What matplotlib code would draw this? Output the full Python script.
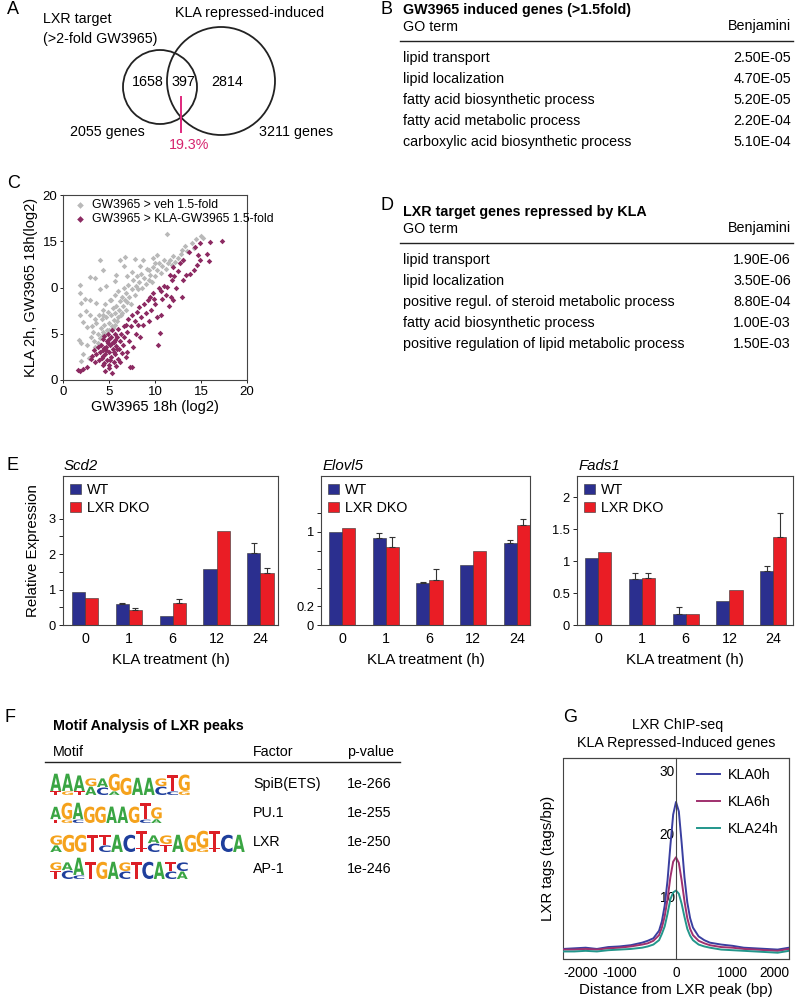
import matplotlib
matplotlib.use('Agg')
import matplotlib.pyplot as plt
import matplotlib.transforms as mtransforms
from matplotlib.patches import Circle, Rectangle, PathPatch
from matplotlib.textpath import TextPath
from matplotlib.font_manager import FontProperties
from matplotlib.ticker import FixedLocator, FixedFormatter
import numpy as np

plt.rcParams['font.family'] = ['Liberation Sans', 'DejaVu Sans']
plt.rcParams['axes.linewidth'] = 0.8
plt.rcParams['axes.edgecolor'] = '#444444'
plt.rcParams['axes.unicode_minus'] = False

# ---- panel A: venn counts
venn_counts = [1658, 397, 2814]
venn_totals = [2055, 3211]
venn_overlap_pct = 19.3

# ---- panel B / D: GO tables
go_b_terms = ['lipid transport', 'lipid localization', 'fatty acid biosynthetic process',
              'fatty acid metabolic process', 'carboxylic acid biosynthetic process']
go_b_pvals = ['2.50E-05', '4.70E-05', '5.20E-05', '2.20E-04', '5.10E-04']
go_d_terms = ['lipid transport', 'lipid localization', 'positive regul. of steroid metabolic process',
              'fatty acid biosynthetic process', 'positive regulation of lipid metabolic process']
go_d_pvals = ['1.90E-06', '3.50E-06', '8.80E-04', '1.00E-03', '1.50E-03']

# ---- panel C: scatter (log2)
gray_x = [1.9, 2.9, 3.5, 1.9, 2.0, 2.4, 2.9, 3.6, 4.0, 4.4, 5.8, 6.2, 6.7, 6.6, 7.8, 8.7, 9.8, 10.2, 11.3, 10.0,
          9.3, 8.4, 7.5, 7.0, 5.6, 4.7, 4.0, 5.2, 2.5, 2.9, 3.5, 1.9, 2.2, 2.6, 3.3, 1.7, 2.0, 2.6, 2.2, 2.8,
          2.0, 13.3, 15.2, 14.2, 12.9,
          3.0, 3.2, 3.4, 3.6, 3.8, 3.9, 4.0, 4.1, 4.2, 4.3, 4.4, 4.5, 4.6, 4.7, 4.8, 4.9, 5.0, 5.1, 5.2, 5.3,
          5.4, 5.5, 5.6, 5.7, 5.8, 5.9, 6.0, 6.1, 6.2, 6.3, 6.4, 6.5, 6.6, 6.7, 6.8, 6.9, 7.0, 7.1, 7.2, 7.4,
          7.5, 7.6, 7.8, 7.9, 8.0, 8.2, 8.3, 8.5, 8.6, 8.8, 9.0, 9.1, 9.3, 9.5, 9.7, 9.8, 10.0, 10.2, 10.4, 10.6,
          10.8, 11.0, 11.2, 11.4, 11.6, 11.8, 12.0, 12.2, 12.5, 12.8, 13.0, 13.5, 14.0, 14.5, 15.0,
          4.2, 4.6, 5.0, 5.4, 3.5, 3.8, 4.4, 5.6, 6.0, 6.4]
gray_y = [10.3, 11.1, 11.0, 9.4, 8.3, 8.8, 8.6, 8.3, 13.0, 11.9, 11.3, 13.0, 13.3, 12.3, 13.1, 13.0, 13.2, 13.5, 15.8, 12.7,
          11.9, 12.3, 11.7, 11.2, 10.7, 10.2, 9.8, 8.7, 7.5, 7.0, 6.6, 7.0, 6.3, 5.7, 5.2, 4.3, 4.0, 3.8, 2.8, 2.4,
          2.1, 14.5, 15.4, 14.3, 14.1,
          4.6, 5.8, 4.2, 6.2, 5.0, 7.0, 4.5, 5.6, 6.6, 7.6, 5.2, 6.0, 8.2, 6.8, 5.4, 7.3, 6.2, 8.6, 7.0, 5.8,
          7.8, 6.5, 9.2, 7.2, 8.0, 6.4, 9.6, 7.6, 8.5, 7.0, 9.0, 8.0, 10.0, 8.6, 7.6, 9.4, 8.4, 10.3, 9.0, 8.2,
          9.8, 10.8, 9.2, 10.2, 11.2, 9.8, 10.6, 11.5, 10.0, 11.0, 10.4, 12.0, 10.8, 11.4, 10.6, 12.2, 11.2, 11.9, 12.6, 11.6,
          12.3, 13.0, 12.0, 12.7, 13.0, 12.4, 13.4, 12.8, 13.2, 13.6, 13.0, 14.0, 14.8, 15.2, 15.6,
          4.8, 5.0, 5.4, 5.6, 3.6, 4.0, 7.0, 6.0, 6.8, 7.2]
purple_x = [4.0, 4.1, 4.2, 4.3, 4.4, 4.5, 4.5, 4.6, 4.7, 4.8, 4.8, 4.9, 5.0, 5.0, 5.1, 5.2, 5.2, 5.3, 5.4, 5.5,
            5.5, 5.6, 5.7, 5.8, 5.9, 6.0, 6.0, 6.1, 6.2, 6.3, 6.4, 6.5, 6.6, 3.6, 3.8, 3.9, 3.4, 3.2, 3.0, 3.5,
            4.4, 4.6, 5.0, 5.3, 5.8, 7.3, 7.5, 1.6, 1.9, 2.2, 2.6, 6.2, 6.8, 7.0,
            4.3, 4.7, 5.1, 5.5, 5.9, 4.9, 5.3, 5.7, 4.5, 5.0,
            6.6, 6.8, 7.0, 7.1, 7.2, 7.4, 7.5, 7.6, 7.8, 7.9, 8.0, 8.2, 8.3, 8.4, 8.5, 8.7, 8.8, 9.0, 9.2, 9.3,
            9.5, 9.6, 9.8, 10.0, 10.2, 10.3, 10.5, 10.6, 10.7, 10.8, 11.0, 11.2, 11.3, 11.5, 11.7, 11.8, 12.0, 12.1, 12.3, 12.5,
            12.7, 12.9, 13.0, 13.0, 13.4, 13.7, 13.8, 14.2, 14.3, 14.6, 14.7, 14.9, 14.9, 15.6, 15.9, 16.0, 17.3,
            12.0, 11.6, 10.4, 9.9]
purple_y = [3.0, 3.8, 2.4, 4.4, 3.2, 1.8, 4.8, 2.8, 3.6, 2.2, 4.2, 5.0, 3.0, 1.6, 3.8, 2.5, 4.6, 5.4, 3.3, 2.0,
            4.1, 5.0, 2.8, 3.7, 4.6, 2.3, 5.5, 3.4, 4.2, 5.0, 2.9, 3.8, 5.8, 2.8, 3.6, 2.2, 3.2, 2.6, 2.3, 2.0,
            1.6, 1.0, 1.3, 0.8, 1.5, 1.4, 1.4, 1.1, 1.0, 1.2, 1.4, 1.9, 2.5, 3.0,
            2.6, 3.2, 2.2, 3.0, 3.4, 4.0, 4.0, 4.3, 3.5, 4.4,
            4.6, 6.0, 5.2, 6.6, 4.2, 5.8, 7.0, 3.6, 6.4, 5.0, 7.4, 6.0, 7.9, 4.6, 6.8, 5.9, 8.2, 7.2, 8.6, 6.4,
            9.0, 7.6, 9.4, 8.2, 6.8, 3.8, 5.1, 9.6, 7.0, 8.8, 10.2, 9.2, 10.1, 8.0, 9.0, 10.8, 8.6, 11.2, 10.0, 11.8,
            12.6, 9.0, 13.0, 10.8, 11.3, 13.8, 11.5, 11.9, 14.4, 12.4, 13.5, 14.8, 13.0, 13.6, 12.9, 14.9, 15.0,
            12.2, 11.4, 10.0, 8.8]

# ---- panel E: qPCR
hours = ['0', '1', '6', '12', '24']
scd2_wt = [0.93, 0.58, 0.26, 1.59, 2.02]
scd2_dko = [0.77, 0.43, 0.62, 2.66, 1.47]
scd2_wt_err = [0, 0.03, 0, 0, 0.30]
scd2_dko_err = [0, 0.05, 0.11, 0, 0.13]
elovl5_wt = [1.0, 0.93, 0.455, 0.645, 0.885]
elovl5_dko = [1.04, 0.84, 0.48, 0.80, 1.07]
elovl5_wt_err = [0, 0.06, 0.005, 0, 0.025]
elovl5_dko_err = [0, 0.11, 0.12, 0, 0.07]
fads1_wt = [1.04, 0.72, 0.17, 0.38, 0.85]
fads1_dko = [1.14, 0.73, 0.17, 0.55, 1.38]
fads1_wt_err = [0, 0.10, 0.11, 0, 0.08]
fads1_dko_err = [0, 0.08, 0, 0, 0.37]

# ---- panel F: motifs
motif_main = ['AAAGAGGAAGTG', 'AGAGGAAGTG', 'GGGTTACTAGAGGTCA', 'GAATGAGTCATC']
motif_main_h = [[1, 1, .9, .45, .5, 1, 1, 1, 1, .45, .9, .95],
                [.75, 1, 1, 1, 1, 1, 1, 1, 1, .7],
                [.55, 1, 1, 1, .55, 1, 1, 1, .45, .5, 1, 1, 1, 1, 1, 1],
                [.45, .45, 1, 1, 1, 1, .5, 1, 1, 1, .5, .5]]
motif_sub = ['TGTACA   CCG', 'TGC     CA', 'A   C  TCT  GT  ', 'TCC   C   CA']
motif_factor = ['SpiB(ETS)', 'PU.1', 'LXR', 'AP-1']
motif_pval = ['1e-266', '1e-255', '1e-250', '1e-246']

# ---- panel G: ChIP-seq profile
dist = [-2000, -1800, -1600, -1400, -1200, -1000, -800, -600, -500, -400, -300, -250, -200, -150, -100, -50, 0,
        50, 100, 150, 200, 250, 300, 400, 500, 600, 800, 1000, 1200, 1400, 1600, 1800, 2000]
kla0 = [1.6, 1.7, 1.8, 1.6, 1.9, 2.0, 2.2, 2.6, 2.9, 3.3, 4.5, 6.0, 8.5, 12.5, 18.0, 23.0, 25.0,
        23.5, 18.5, 13.0, 9.0, 6.5, 5.0, 3.6, 3.0, 2.6, 2.3, 2.1, 1.8, 1.7, 1.6, 1.5, 1.8]
kla6 = [1.5, 1.5, 1.6, 1.5, 1.7, 1.8, 2.0, 2.3, 2.5, 2.9, 3.8, 5.0, 6.8, 9.5, 13.0, 15.5, 16.2,
        15.3, 12.5, 9.2, 6.5, 4.8, 3.8, 2.9, 2.5, 2.2, 1.9, 1.8, 1.6, 1.5, 1.4, 1.3, 1.6]
kla24 = [1.2, 1.2, 1.3, 1.2, 1.4, 1.5, 1.6, 1.8, 2.0, 2.3, 3.0, 4.0, 5.2, 7.2, 9.5, 10.6, 10.9,
         10.4, 8.8, 6.7, 4.8, 3.7, 3.0, 2.3, 2.0, 1.8, 1.5, 1.4, 1.3, 1.2, 1.1, 1.0, 1.3]

blue = '#2b2f8f'
red = '#ea1d25'
lcol = {'A': '#3aa543', 'C': '#1f3f9c', 'G': '#f5a21c', 'T': '#dc1f26'}

fig = plt.figure(figsize=(8, 10), dpi=100)


def px_axes(l, t, r, b):
    return fig.add_axes([l / 800, 1 - b / 1000, (r - l) / 800, (b - t) / 1000])


bg = px_axes(0, 0, 800, 1000)
bg.set_xlim(0, 800)
bg.set_ylim(1000, 0)
bg.axis('off')

# panel letters
for lab, x, y in [('A', 7, 10), ('B', 380, 10), ('C', 7, 183), ('D', 381, 206),
                  ('E', 6, 466), ('F', 5, 717), ('G', 563, 717)]:
    bg.text(x, y, lab, fontsize=13, va='center', ha='left')

# ---- A
bg.add_patch(Circle((160, 87), 37, fill=False, lw=1.3, ec='#222222'))
bg.add_patch(Circle((221, 81), 54, fill=False, lw=1.3, ec='#222222'))
bg.plot([181, 181], [97, 132], color='#e0287d', lw=1.4)
bg.text(43, 19, 'LXR target', fontsize=10.3, va='center')
bg.text(43, 39, '(>2-fold GW3965)', fontsize=10.3, va='center')
bg.text(175, 13, 'KLA repressed-induced', fontsize=10.3, va='center')
bg.text(148, 82, str(venn_counts[0]), fontsize=10.3, va='center', ha='center')
bg.text(183, 82, str(venn_counts[1]), fontsize=10.3, va='center', ha='center')
bg.text(227, 82, str(venn_counts[2]), fontsize=10.3, va='center', ha='center')
bg.text(107, 132, '%d genes' % venn_totals[0], fontsize=10.3, va='center', ha='center')
bg.text(296, 132, '%d genes' % venn_totals[1], fontsize=10.3, va='center', ha='center')
bg.text(189, 145, '%.1f%%' % venn_overlap_pct, fontsize=10.3, va='center', ha='center', color='#d6246e')


# ---- B & D tables
def go_table(title, y0, terms, pvals):
    bg.text(403, y0, title, fontsize=10.3, fontweight='bold', va='center')
    bg.text(403, y0 + 17, 'GO term', fontsize=10.3, va='center')
    bg.text(791, y0 + 16, 'Benjamini', fontsize=10.3, va='center', ha='right')
    bg.plot([400, 793], [y0 + 31, y0 + 31], color='#222222', lw=1.0)
    for i, (t, p) in enumerate(zip(terms, pvals)):
        yy = y0 + 48 + i * 21
        bg.text(403, yy, t, fontsize=10.3, va='center')
        bg.text(791, yy, p, fontsize=10.3, va='center', ha='right')


go_table('GW3965 induced genes (>1.5fold)', 10, go_b_terms, go_b_pvals)
go_table('LXR target genes repressed by KLA', 212, go_d_terms, go_d_pvals)

# ---- C scatter
axc = px_axes(63, 195, 247, 380)
axc.scatter(gray_x, gray_y, s=8, marker='D', color='#b9b9b9', linewidths=0, label='GW3965 > veh 1.5-fold')
axc.scatter(purple_x, purple_y, s=8, marker='D', color='#8c2a62', linewidths=0,
            label='GW3965 > KLA-GW3965 1.5-fold')
axc.set_xlim(0, 20)
axc.set_ylim(0, 20)
axc.set_xticks([0, 5, 10, 15, 20])
axc.set_yticks([0, 5, 10, 15, 20])
axc.set_yticklabels(['0', '5', '0', '15', '20'])
axc.tick_params(labelsize=9.5, length=2, width=0.6, pad=2)
axc.set_xlabel('GW3965 18h (log2)', fontsize=10.5, labelpad=2)
axc.set_ylabel('KLA 2h, GW3965 18h(log2)', fontsize=10.5, labelpad=3)
axc.legend(loc='upper left', frameon=False, fontsize=8.8, handletextpad=0.0, labelspacing=0.15,
           borderaxespad=0.15, markerscale=1.2, borderpad=0.2)


# ---- E bars
def bar_panel(l, r, gene, wt, dko, wt_err, dko_err, ylim, xlim):
    ax = px_axes(l, 476, r, 625)
    x = np.arange(len(hours))
    ax.bar(x - 0.15, wt, 0.3, color=blue, edgecolor='#333333', linewidth=0.4, label='WT')
    ax.bar(x + 0.15, dko, 0.3, color=red, edgecolor='#333333', linewidth=0.4, label='LXR DKO')
    for xs, vals, errs in [(x - 0.15, wt, wt_err), (x + 0.15, dko, dko_err)]:
        idx = [i for i, e in enumerate(errs) if e > 0]
        ax.errorbar(xs[idx], np.array(vals)[idx], yerr=[np.zeros(len(idx)), np.array(errs)[idx]],
                    fmt='none', ecolor='#333333', elinewidth=0.8, capsize=2.2, capthick=0.8)
    ax.set_xlim(*xlim)
    ax.set_ylim(*ylim)
    ax.set_xticks(x)
    ax.set_xticklabels(hours)
    ax.tick_params(axis='x', length=0, labelsize=10.3, pad=5)
    ax.tick_params(axis='y', labelsize=9.3, length=3, width=0.6, pad=2)
    ax.tick_params(axis='y', which='minor', length=3, width=0.6)
    ax.set_xlabel('KLA treatment (h)', fontsize=10.8, labelpad=5)
    ax.text(0.005, 1.02, gene, transform=ax.transAxes, fontsize=10.8, style='italic', va='bottom')
    ax.legend(loc='upper left', frameon=False, fontsize=10.3, handlelength=0.75, handleheight=0.75,
              handletextpad=0.4, labelspacing=0.25, borderaxespad=0.3, borderpad=0.2)
    return ax


ax1 = bar_panel(63, 278, 'Scd2', scd2_wt, scd2_dko, scd2_wt_err, scd2_dko_err, (0, 4.2), (-0.5, 4.4))
ax1.yaxis.set_major_locator(FixedLocator([0, 1, 2, 3]))
ax1.yaxis.set_minor_locator(FixedLocator([0.5, 1.5, 2.5]))
ax1.set_ylabel('Relative Expression', fontsize=10.8, labelpad=6)

ax2 = bar_panel(321, 530, 'Elovl5', elovl5_wt, elovl5_dko, elovl5_wt_err, elovl5_dko_err, (0, 1.6), (-0.48, 4.3))
ax2.yaxis.set_major_locator(FixedLocator([0, 0.2, 0.4, 0.6, 0.8, 1.0, 1.2]))
ax2.yaxis.set_major_formatter(FixedFormatter(['0', '0.2', '', '', '', '1', '']))

ax3 = bar_panel(577, 793, 'Fads1', fads1_wt, fads1_dko, fads1_wt_err, fads1_dko_err, (0, 2.33), (-0.48, 4.45))
ax3.yaxis.set_major_locator(FixedLocator([0, 0.5, 1, 1.5, 2]))
ax3.yaxis.set_major_formatter(FixedFormatter(['0', '0.5', '1', '1.5', '2']))

# ---- F motif table
bg.text(53, 726, 'Motif Analysis of LXR peaks', fontsize=10.3, fontweight='bold', va='center')
bg.text(53, 752, 'Motif', fontsize=10.3, va='center')
bg.text(253, 752, 'Factor', fontsize=10.3, va='center')
bg.text(347, 752, 'p-value', fontsize=10.3, va='center')
bg.plot([45, 400], [762, 762], color='#222222', lw=1.0)

logo_fp = FontProperties(family='DejaVu Sans', weight='bold')


def draw_letter(ch, x, ybot, w, h, color):
    tp = TextPath((0, 0), ch, size=1, prop=logo_fp)
    bb = tp.get_extents()
    tr = mtransforms.Affine2D().translate(-bb.x0, -bb.y0).scale(w / bb.width, -h / bb.height).translate(x, ybot)
    bg.add_patch(PathPatch(tr.transform_path(tp), fc=color, ec='none', lw=0))


logo_box = [(50, 190, 774, 795), (50, 162, 803, 823), (50, 245, 831, 852), (50, 188, 858, 879)]
row_y = [784, 813, 842, 869]
for k in range(4):
    x0, x1, top, bot = logo_box[k]
    n = len(motif_main[k])
    cw = (x1 - x0) / n
    H = bot - top
    for i, ch in enumerate(motif_main[k]):
        mh = motif_main_h[k][i]
        sub = motif_sub[k][i]
        sub_h = max(0.2, 0.92 - mh) if sub != ' ' else 0.0
        if sub != ' ':
            draw_letter(sub, x0 + i * cw + 0.3, bot, cw - 0.6, sub_h * H * 0.85, lcol[sub])
        base = bot - sub_h * H * 0.85 - (0.5 if sub != ' ' else 0)
        draw_letter(ch, x0 + i * cw + 0.3, base, cw - 0.6, mh * H * 0.82, lcol[ch])
    bg.text(253, row_y[k], motif_factor[k], fontsize=10.3, va='center')
    bg.text(347, row_y[k], motif_pval[k], fontsize=10.3, va='center')

# ---- G ChIP profile
bg.text(678, 725, 'LXR ChIP-seq', fontsize=10.3, va='center', ha='center')
bg.text(676, 743, 'KLA Repressed-Induced genes', fontsize=10.3, va='center', ha='center')
axg = px_axes(563, 758, 789, 959)
axg.plot(dist, kla0, color='#3a3fa0', lw=1.4, label='KLA0h')
axg.plot(dist, kla6, color='#a0306e', lw=1.4, label='KLA6h')
axg.plot(dist, kla24, color='#23968b', lw=1.4, label='KLA24h')
axg.set_xlim(-2000, 2000)
axg.set_ylim(0, 32)
axg.spines['left'].set_position(('data', 0))
axg.spines['left'].set_linewidth(0.8)
axg.add_patch(Rectangle((0, 0), 1, 1, transform=axg.transAxes, fill=False, lw=0.8, ec='#444444', clip_on=False))
axg.set_yticks([10, 20, 30])
axg.set_xticks([-2000, -1000, 0, 1000, 2000])
axg.tick_params(axis='y', length=0, labelsize=9.8, pad=1)
axg.tick_params(axis='x', length=0, labelsize=9.8, pad=5)
axg.get_xticklabels()[-1].set_horizontalalignment('right')
axg.get_xticklabels()[0].set_horizontalalignment('left')
axg.set_xlabel('Distance from LXR peak (bp)', fontsize=10.8, labelpad=2)
axg.legend(loc='upper right', frameon=False, fontsize=10.3, handlelength=1.6, labelspacing=0.9,
           borderaxespad=0.3, handletextpad=0.6)
fig.text(548 / 800, 1 - 858 / 1000, 'LXR tags (tags/bp)', rotation=90, fontsize=10.8, va='center', ha='center')

fig.savefig('out.png', dpi=100)
